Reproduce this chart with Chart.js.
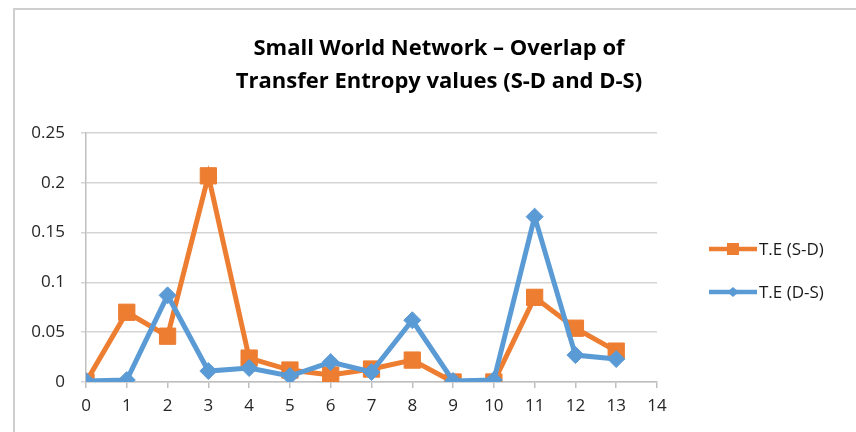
<!DOCTYPE html>
<html>
<head>
<meta charset="utf-8">
<script src="https://cdn.jsdelivr.net/npm/chart.js@4"></script>
<style>
  html, body { margin: 0; padding: 0; background: #fff; }
  #wrap { position: relative; width: 856px; height: 432px; overflow: hidden; }
  #frame { position: absolute; left: 13px; top: 8px; width: 900px; height: 500px;
           border-left: 2px solid #cfcfcf; border-top: 2px solid #cfcfcf; pointer-events: none; }
</style>
</head>
<body>
<div id="wrap">
  <canvas id="chart" width="856" height="432"></canvas>
  <div id="frame"></div>
</div>
<script>
var titleLines = ['Small World Network \u2013 Overlap of', 'Transfer Entropy values (S-D and D-S)'];
var nodes = [0, 1, 2, 3, 4, 5, 6, 7, 8, 9, 10, 11, 12, 13];
var teSD = [0, 0.070, 0.046, 0.207, 0.024, 0.012, 0.007, 0.013, 0.022, 0, 0, 0.085, 0.054, 0.031];
var teDS = [0.001, 0.002, 0.087, 0.011, 0.014, 0.006, 0.020, 0.010, 0.062, 0.001, 0.002, 0.166, 0.027, 0.023];
var yTicks = [0, 0.05, 0.1, 0.15, 0.2, 0.25];

var ORANGE = '#ED7D31';
var BLUE = '#5B9BD5';
var FONT = '"Open Sans", Lato, sans-serif';

function pts(vals) {
    return nodes.map(function (n, i) { return { x: n, y: vals[i] }; });
}

// title + legend drawn by hand so they sit where the original has them
var decor = {
    id: 'decor',
    afterDraw: function (chart) {
        var c = chart.ctx;
        c.save();
        c.fillStyle = '#000';
        c.font = 'bold 22px ' + FONT;
        c.textAlign = 'center';
        c.textBaseline = 'alphabetic';
        c.fillText(titleLines[0], 439, 55);
        c.fillText(titleLines[1], 439, 88);

        var ys = [249, 292];
        chart.data.datasets.forEach(function (ds, i) {
            var y = ys[i];
            c.strokeStyle = ds.borderColor;
            c.lineWidth = 4.5;
            c.beginPath();
            c.moveTo(709, y);
            c.lineTo(757, y);
            c.stroke();
            c.fillStyle = ds.borderColor;
            c.beginPath();
            if (ds.pointStyle === 'rect') {
                c.rect(733 - 6, y - 6, 12, 12);
            } else {
                c.moveTo(733, y - 5); c.lineTo(739, y); c.lineTo(733, y + 5); c.lineTo(727, y);
                c.closePath();
            }
            c.fill();
            c.fillStyle = '#1a1a1a';
            c.font = '17px ' + FONT;
            c.textAlign = 'left';
            c.textBaseline = 'middle';
            c.fillText(ds.label, 759, y + 1);
        });
        c.restore();
    }
};

new Chart(document.getElementById('chart').getContext('2d'), {
    type: 'line',
    data: {
        datasets: [{
            label: 'T.E (S-D)',
            data: pts(teSD),
            borderColor: ORANGE,
            backgroundColor: ORANGE,
            borderWidth: 5,
            pointStyle: 'rect',
            pointRadius: 11.5,
            pointBorderWidth: 1,
            tension: 0,
            order: 1
        }, {
            label: 'T.E (D-S)',
            data: pts(teDS),
            borderColor: BLUE,
            backgroundColor: BLUE,
            borderWidth: 5,
            pointStyle: 'rectRot',
            pointRadius: 8.5,
            pointBorderWidth: 1,
            tension: 0,
            order: 0
        }]
    },
    options: {
        responsive: false,
        animation: false,
        layout: { padding: { left: 30, right: 199, top: 133, bottom: 13 } },
        plugins: {
            legend: { display: false },
            title: { display: false },
            tooltip: { enabled: false }
        },
        scales: {
            x: {
                type: 'linear',
                min: 0,
                max: 14,
                afterFit: function (axis) { axis.height = 37; },
                ticks: { stepSize: 1, color: '#262626', font: { family: FONT, size: 17 }, padding: 8 },
                grid: { drawOnChartArea: false, drawTicks: true, tickLength: 6, color: '#bfbfbf', lineWidth: 1.5 },
                border: { color: '#bfbfbf', width: 1.5 }
            },
            y: {
                min: 0,
                max: 0.25,
                afterFit: function (axis) { axis.width = 56; },
                afterBuildTicks: function (axis) {
                    axis.ticks = yTicks.map(function (v) { return { value: v }; });
                },
                ticks: {
                    color: '#262626',
                    font: { family: FONT, size: 17 },
                    padding: 16,
                    callback: function (v) { return String(Math.round(v * 100) / 100); }
                },
                grid: { color: '#d4d4d4', lineWidth: 1.5, tickLength: 5 },
                border: { color: '#bfbfbf', width: 1.5 }
            }
        }
    },
    plugins: [decor]
});
</script>
</body>
</html>
